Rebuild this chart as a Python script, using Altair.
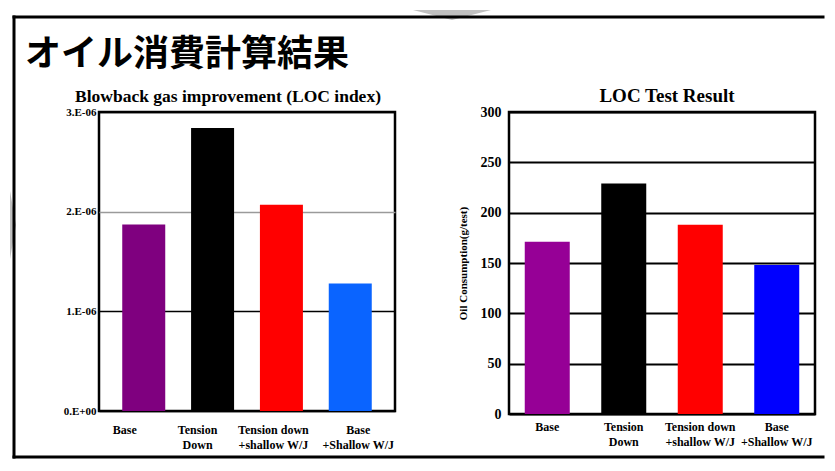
import altair as alt
import pandas as pd

# ---------------- data ----------------
categories = ["Base", "Tension\nDown", "Tension down\n+shallow W/J", "Base\n+Shallow W/J"]
blowback_index = [1.87e-6, 2.84e-6, 2.07e-6, 1.28e-6]
oil_consumption = [171, 229, 188, 148]
blowback_ticks = [0, 1e-6, 2e-6, 3e-6]
oil_ticks = [0, 50, 100, 150, 200, 250, 300]
left_colors = ["#7f007f", "#000000", "#ff0000", "#0a64ff"]
right_colors = ["#960096", "#000000", "#ff0000", "#0000ff"]

slide_title = "オイル消費計算結果"
left_title = "Blowback gas improvement (LOC index)"
right_title = "LOC Test Result"
right_y_title = "Oil Consumption(g/test)"

SERIF = "Liberation Serif"
JP = "Noto Sans CJK JP"

left_df = pd.DataFrame({"cat": categories, "value": blowback_index})
right_df = pd.DataFrame({"cat": categories, "value": oil_consumption})
one = pd.DataFrame({"k": [0]})

# plot sizes
LW, LH = 296, 299
RW, RH = 306, 302
# page position of the left plot origin (decorations are placed relative to it)
OX, OY = 97, 110


def rule(x1, y1, x2, y2, color="black", width=3):
    return alt.Chart(one).mark_rule(color=color, strokeWidth=width, strokeCap="square").encode(
        x=alt.value(x1 - OX), y=alt.value(y1 - OY),
        x2=alt.value(x2 - OX), y2=alt.value(y2 - OY))


def shape(path, cx, cy, size, color="#c0c0c0"):
    return alt.Chart(one).mark_point(shape=path, filled=True, color=color, opacity=1,
                                     strokeWidth=0, size=size).encode(
        x=alt.value(cx - OX), y=alt.value(cy - OY))


# slide decorations
top_chevron = shape("M-1,-0.128L1,-0.128L0,0.128Z", 450, 13, 78 * 78)
left_chevron = shape("M-0.088,-1L0.088,0L-0.088,1Z", 11, 223, 68 * 68)
frame_top = rule(12, 15, 821, 15)
frame_left = rule(12, 15, 12, 455)
frame_bottom = rule(12, 455, 821, 455)

slide_title_layer = alt.Chart(one).mark_text(
    text=slide_title, font=JP, fontSize=36, fontWeight="bold", align="left",
    baseline="alphabetic", color="black").encode(x=alt.value(23 - OX), y=alt.value(64 - OY))

left_title_layer = alt.Chart(one).mark_text(
    text=left_title, font=SERIF, fontSize=17.5, fontWeight="bold", align="center",
    baseline="alphabetic", color="black").encode(x=alt.value(226 - OX), y=alt.value(99.5 - OY))

label_style = dict(labelFont=SERIF, labelFontWeight="bold", labelColor="black")

x_axis_common = dict(title=None, labelExpr="split(datum.label, '\\n')", labelAngle=0,
                     labelLineHeight=15, labelFontSize=12, domain=False, ticks=False,
                     tickSize=0, grid=False, **label_style)

left_label_shift = ("indexof(datum.value, 'shallow') >= 0 ? -8 : "
                    "indexof(datum.value, 'Shallow') >= 0 ? 8 : "
                    "indexof(datum.value, 'Down') >= 0 ? -15 : -19")

left_bars = alt.Chart(left_df).mark_bar(size=43).encode(
    x=alt.X("cat:N", sort=categories,
            scale=alt.Scale(paddingInner=0, paddingOuter=0.15),
            axis=alt.Axis(labelPadding=13, labelOffset=alt.expr(left_label_shift), **x_axis_common)),
    y=alt.Y("value:Q", scale=alt.Scale(domain=[0, 3e-6], nice=False),
            axis=alt.Axis(title=None, values=blowback_ticks,
                          labelExpr="datum.value < 1e-9 ? '0.E+00' : format(datum.value * 1e6, '.0f') + '.E-06'",
                          labelFontSize=11, labelPadding=3, domain=False, ticks=False, tickSize=0,
                          gridColor={"condition": {"test": "abs(datum.value - 2e-6) < 1e-9", "value": "#9a9a9a"},
                                     "value": "#000000"},
                          gridWidth=1.5, **label_style)),
    color=alt.Color("cat:N", scale=alt.Scale(domain=categories, range=left_colors), legend=None),
)

left = alt.layer(
    top_chevron, left_chevron, frame_top, frame_left, frame_bottom,
    slide_title_layer, left_title_layer, left_bars,
).properties(width=LW, height=LH)

right = alt.Chart(right_df).mark_bar(size=45).encode(
    x=alt.X("cat:N", sort=categories,
            scale=alt.Scale(paddingInner=0, paddingOuter=0),
            axis=alt.Axis(labelPadding=7.5, **x_axis_common)),
    y=alt.Y("value:Q", scale=alt.Scale(domain=[0, 300], nice=False),
            axis=alt.Axis(title=right_y_title, values=oil_ticks, labelFontSize=14,
                          labelPadding=8, titleFontSize=11, titlePadding=12,
                          titleFont=SERIF, titleFontWeight="bold", titleColor="black",
                          domain=False, ticks=False, tickSize=0,
                          gridColor="#000000", gridWidth=2, **label_style)),
    color=alt.Color("cat:N", scale=alt.Scale(domain=categories, range=right_colors), legend=None),
).properties(
    width=RW, height=RH,
    title=alt.TitleParams(right_title, font=SERIF, fontSize=19, fontWeight="bold",
                          baseline="alphabetic", offset=-16, dx=5, anchor="middle",
                          frame="group", color="black"),
)

chart = alt.hconcat(
    left, right, spacing=114, bounds="flush", padding=0, background="white"
).resolve_scale(color="independent").configure_view(
    stroke="black", strokeWidth=2.5
)

chart.save("out.html", embed_options={"renderer": "svg", "actions": False})
